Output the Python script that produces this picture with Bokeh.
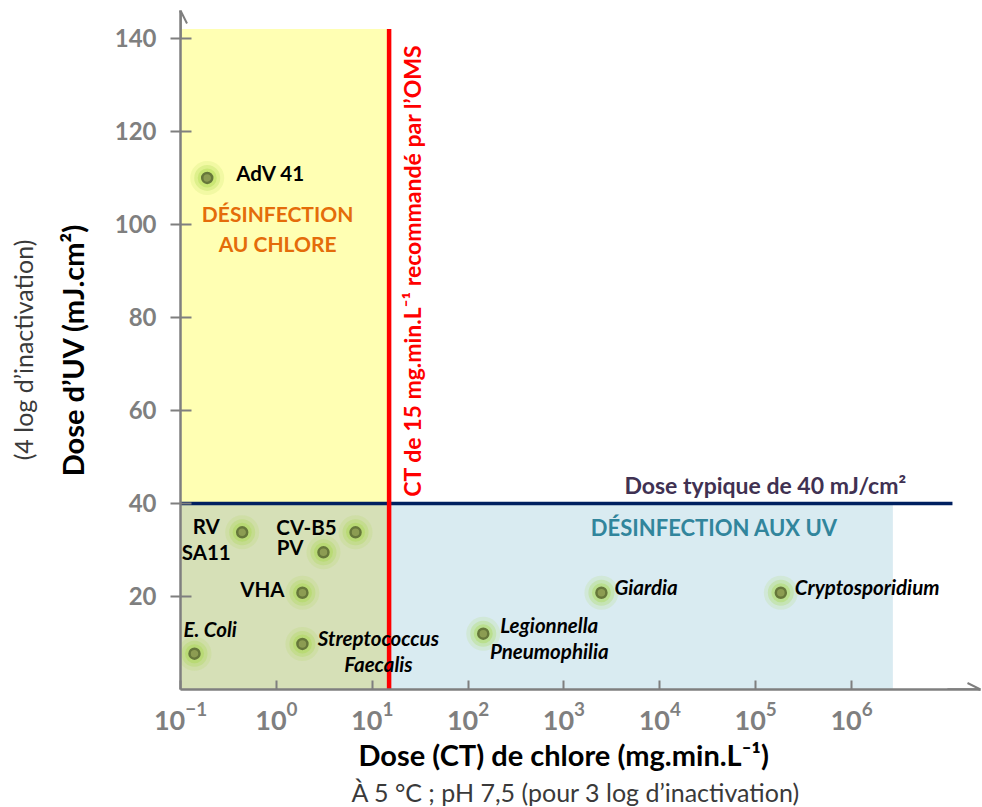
import numpy as np
from bokeh.plotting import figure
from bokeh.models import (Range1d, FixedTicker, BoxAnnotation, Label, Arrow,
                          OpenHead, ColumnDataSource, LinearAxis, Title)
from bokeh.core.properties import value
from bokeh.embed import file_html
from bokeh.resources import INLINE

# ---------------- data ----------------
organisms = ["AdV 41", "RV\nSA11", "CV-B5", "PV", "VHA", "E. Coli",
             "Streptococcus\nFaecalis", "Legionnella\nPneumophilia",
             "Giardia", "Cryptosporidium"]
ct_chlore = [0.19, 0.44, 6.7, 3.1, 1.87, 0.14, 1.87, 144, 2460, 183000]   # mg.min/L
dose_uv = [110, 33.8, 33.8, 29.5, 20.8, 7.7, 9.8, 12.0, 20.8, 20.8]     # mJ/cm2
italic = [False, False, False, False, False, True, True, True, True, True]

x_ticks = [0.1, 1, 10, 100, 1e3, 1e4, 1e5, 1e6]
y_ticks = [20, 40, 60, 80, 100, 120, 140]

ct_oms = 15          # CT recommandé par l'OMS
uv_typique = 40      # dose UV typique
zone_top = 142       # haut de la zone chlore
uv_zone_end = 2.7e6  # fin de la zone UV

# ---------------- styles ----------------
FONT = "Lato"
GRAY = "#7f7f7f"
label_dx = [29, -36, -19, -20, -18, -11, 76, 66, 13, 14]
label_dy = [-5, 7, -5, -5, -4, -25, 7, 4, -6, -6]
label_align = ["left", "center", "right", "right", "right", "left",
               "center", "center", "left", "left"]

x_lo, x_hi = 0.1, 2.216e7
y_lo, y_hi = 0, 146

p = figure(width=982, height=807, x_axis_type="log",
           x_range=Range1d(x_lo, x_hi), y_range=Range1d(y_lo, y_hi),
           output_backend="svg", toolbar_location=None,
           min_border_left=180, min_border_right=2, min_border_top=10,
           min_border_bottom=118)
p.outline_line_color = None
p.grid.visible = False
p.background_fill_color = "white"

# zones
p.add_layout(BoxAnnotation(left=x_lo, right=ct_oms, bottom=uv_typique, top=zone_top,
                           fill_color="#ffffb3", fill_alpha=1, line_color=None,
                           level="underlay"))
p.add_layout(BoxAnnotation(left=x_lo, right=ct_oms, bottom=0, top=uv_typique,
                           fill_color="#d6e0b7", fill_alpha=1, line_color=None,
                           level="underlay"))
p.add_layout(BoxAnnotation(left=ct_oms, right=uv_zone_end, bottom=0, top=uv_typique,
                           fill_color="#d9ebf1", fill_alpha=1, line_color=None,
                           level="underlay"))

# threshold lines
p.segment(x0=[x_lo], y0=[uv_typique], x1=[1.13e7], y1=[uv_typique],
          line_color="#002060", line_width=3.5)
p.segment(x0=[ct_oms], y0=[0], x1=[ct_oms], y1=[zone_top],
          line_color="#ff0000", line_width=4.5)

# axes
p.yaxis.ticker = FixedTicker(ticks=y_ticks)
p.xaxis.ticker = FixedTicker(ticks=x_ticks)
for ax in (p.xaxis, p.yaxis):
    ax.axis_line_color = GRAY
    ax.axis_line_width = 2.5
    ax.major_tick_line_color = GRAY
    ax.major_tick_line_width = 2
    ax.minor_tick_line_color = None
    ax.major_label_text_font = FONT
    ax.major_label_text_font_style = "bold"
    ax.major_label_text_color = GRAY
    ax.axis_label_text_font = FONT
    ax.axis_label_text_color = "black"
    ax.axis_label_text_font_style = "bold"
    ax.axis_label_text_font_size = "29px"
p.yaxis.major_label_text_font_size = "24px"
p.xaxis.major_label_text_font_size = "27px"
p.yaxis.major_tick_in = 11
p.yaxis.major_tick_out = 10
p.yaxis.major_label_standoff = 14
p.xaxis.major_tick_in = 9
p.xaxis.major_tick_out = 0
p.xaxis.major_label_standoff = 12
p.yaxis.axis_label = "Dose d’UV (mJ.cm²)"
p.yaxis.axis_label_standoff = 22

# x-axis titles (placed as titles so they can sit slightly left of centre)
p.add_layout(Title(text="Dose (CT) de chlore (mg.min.L⁻¹)", align="left", offset=178,
                   vertical_align="middle", standoff=6, text_font=FONT,
                   text_font_size="29px", text_font_style="bold",
                   text_color="black"), "below")
p.add_layout(Title(text="À 5 °C ; pH 7,5 (pour 3 log d’inactivation)", align="left",
                   offset=171, vertical_align="middle", standoff=0, text_font=FONT,
                   text_font_size="25px", text_font_style="normal",
                   text_color="#3a3a3a"), "below")

# second y-axis title line
p.add_layout(LinearAxis(ticker=FixedTicker(ticks=[]), axis_line_color=None,
                        major_tick_in=0, major_tick_out=0, major_label_standoff=0,
                        minor_tick_line_color=None, major_label_text_font_size="0px",
                        axis_label="(4 log d’inactivation)", axis_label_standoff=14,
                        axis_label_text_font=FONT, axis_label_text_font_style="normal",
                        axis_label_text_font_size="25px",
                        axis_label_text_color="#3a3a3a"), "left")

# axis arrows
p.add_layout(Arrow(end=OpenHead(size=13, line_color=GRAY, line_width=2),
                   x_start=x_lo, y_start=140, x_end=x_lo, y_end=y_hi,
                   line_color=GRAY, line_width=2.5))
p.add_layout(Arrow(end=OpenHead(size=13, line_color=GRAY, line_width=2),
                   x_start=1e7, y_start=0, x_end=x_hi, y_end=0,
                   line_color=GRAY, line_width=2.5))

# points
src = ColumnDataSource(dict(x=ct_chlore, y=dose_uv, label=organisms,
                            dx=label_dx, dy=label_dy, align=label_align,
                            style=["bold italic" if i else "bold" for i in italic]))
for size, alpha in [(34, 0.15), (26, 0.25), (19, 0.35)]:
    p.scatter("x", "y", source=src, size=size, fill_color="#a5d647",
              fill_alpha=alpha, line_color=None)
p.scatter("x", "y", source=src, size=10, fill_color="#8c9c52",
          line_color="#66773a", line_width=2.5)
p.text("x", "y", text="label", source=src, x_offset="dx", y_offset="dy",
       text_align="align", text_baseline="middle", text_font=value(FONT),
       text_font_size="20.5px", text_font_style="style", text_color="black",
       text_line_height=1.08)


# annotations inside plot
def lab(x, y, text, color, size, style="bold", angle=0.0, align="center"):
    p.add_layout(Label(x=x, y=y, text=text, text_color=color, text_font=FONT,
                       text_font_size=size, text_font_style=style, angle=angle,
                       text_align=align, text_baseline="middle"))


lab(1.03, 102.4, "DÉSINFECTION", "#e46c0a", "21px")
lab(1.03, 95.9, "AU CHLORE", "#e46c0a", "21px")
lab(37000, 34.8, "DÉSINFECTION AUX UV", "#31859c", "22px")
lab(126000, 43.9, "Dose typique de 40 mJ/cm²", "#403152", "23px")
lab(26, 90.1, "CT de 15 mg.min.L⁻¹ recommandé par l’OMS", "#ff0000", "23px",
    angle=np.pi / 2)

open("out.html", "w").write(file_html(p, INLINE))
